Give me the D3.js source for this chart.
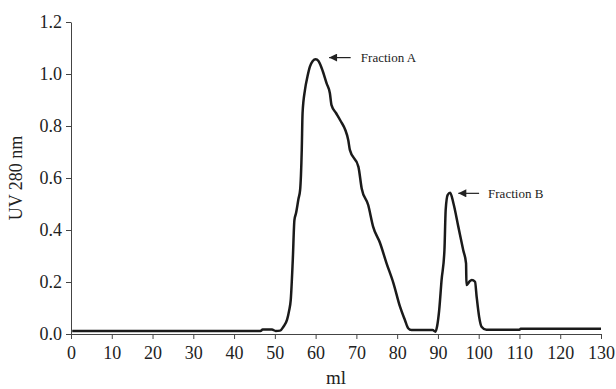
<!DOCTYPE html>
<html><head><meta charset="utf-8">
<script src="https://cdn.jsdelivr.net/npm/d3@7/dist/d3.min.js"></script>
<style>
html,body{margin:0;padding:0;background:#fff;}
svg{display:block;font-family:"Liberation Serif","Times New Roman",serif;}
</style></head>
<body><svg id="chart" width="616" height="389"></svg>
<script>
// Elution volume (ml)
const mlValues = [0.3, 46.5, 47.0, 49.3, 50.2, 51.3, 52.1, 53.0, 53.5, 53.9, 54.4, 54.8, 55.2, 55.8, 56.2, 56.6, 56.8, 57.4, 58.0, 58.6, 59.3, 60.0, 60.7, 61.5, 62.7, 63.5, 63.9, 65.0, 66.0, 68.0, 68.4, 70.5, 71.3, 72.9, 74.1, 75.8, 77.4, 79.1, 80.7, 81.9, 82.7, 83.5, 88.7, 89.4, 89.8, 90.3, 90.9, 91.6, 91.9, 92.4, 93.0, 93.8, 95.0, 96.2, 96.9, 97.0, 97.7, 98.3, 99.1, 99.5, 100.1, 100.7, 101.9, 110.0, 110.3, 130.0];
// UV absorbance at 280 nm
const uvValues = [0.012, 0.012, 0.017, 0.017, 0.012, 0.013, 0.028, 0.055, 0.09, 0.131, 0.285, 0.438, 0.465, 0.52, 0.554, 0.708, 0.85, 0.94, 0.99, 1.028, 1.05, 1.057, 1.05, 1.022, 0.964, 0.926, 0.88, 0.85, 0.823, 0.746, 0.708, 0.643, 0.56, 0.496, 0.413, 0.35, 0.272, 0.195, 0.105, 0.054, 0.022, 0.015, 0.015, 0.009, 0.03, 0.09, 0.208, 0.323, 0.477, 0.535, 0.543, 0.503, 0.413, 0.323, 0.272, 0.188, 0.201, 0.208, 0.201, 0.143, 0.067, 0.028, 0.016, 0.016, 0.02, 0.02];
const xTicks = [0,10,20,30,40,50,60,70,80,90,100,110,120,130];
const yTicks = [0.0,0.2,0.4,0.6,0.8,1.0,1.2];
const annoLabels = ["Fraction A", "Fraction B"];
const annoTipMl = [63.3, 95.0];
const annoTailMl = [68.6, 100.1];
const annoUv = [1.063, 0.541];
const annoTextMl = [71.1, 102.3];

const svg = d3.select("#chart");
const x = d3.scaleLinear().domain([0,130]).range([71,601]);
const y = d3.scaleLinear().domain([0,1.2]).range([334,22]);

svg.append("defs").append("marker")
  .attr("id","arrow").attr("viewBox","0 0 10 10").attr("refX",10).attr("refY",5)
  .attr("markerWidth",9).attr("markerHeight",8).attr("markerUnits","userSpaceOnUse")
  .attr("orient","auto")
  .append("path").attr("d","M0,0 L10,5 L0,10 Z").attr("fill","#222");

const xAxis = svg.append("g").attr("transform","translate(0,334)")
  .call(d3.axisBottom(x).tickValues(xTicks).tickFormat(d3.format("d")).tickSize(5).tickSizeOuter(0));
const yAxis = svg.append("g").attr("transform","translate(71,0)")
  .call(d3.axisLeft(y).tickValues(yTicks).tickFormat(d3.format(".1f")).tickSize(5).tickSizeOuter(0));
[xAxis,yAxis].forEach(g=>{
  g.selectAll("path,line").attr("stroke","#444").attr("stroke-width",1);
  g.selectAll("text").attr("fill","#222").style("font-family","'Liberation Serif',serif").style("font-size","18px");
});
xAxis.selectAll("text").attr("dy","0.95em");
yAxis.selectAll("text").attr("x",-9);

const pts = mlValues.map((m,i)=>[m,uvValues[i]]);
svg.append("path").datum(pts)
  .attr("fill","none").attr("stroke","#1a1a1a").attr("stroke-width",2.5)
  .attr("stroke-linejoin","round")
  .attr("d", d3.line().x(d=>x(d[0])).y(d=>y(d[1])).curve(d3.curveMonotoneX));

annoLabels.forEach((lab,i)=>{
  svg.append("line")
    .attr("x1",x(annoTailMl[i])).attr("y1",y(annoUv[i]))
    .attr("x2",x(annoTipMl[i])).attr("y2",y(annoUv[i]))
    .attr("stroke","#222").attr("stroke-width",1.2)
    .attr("marker-end","url(#arrow)");
  svg.append("text").attr("x",x(annoTextMl[i])).attr("y",y(annoUv[i])).attr("dy","0.35em")
    .attr("fill","#222").style("font-size","13px").text(lab);
});

svg.append("text").attr("x",x(65)).attr("y",384).attr("text-anchor","middle")
  .attr("fill","#222").style("font-size","19px").text("ml");
svg.append("text").attr("transform","translate(22,178) rotate(-90)").attr("text-anchor","middle")
  .attr("fill","#222").style("font-size","18px").text("UV 280 nm");
</script></body></html>
